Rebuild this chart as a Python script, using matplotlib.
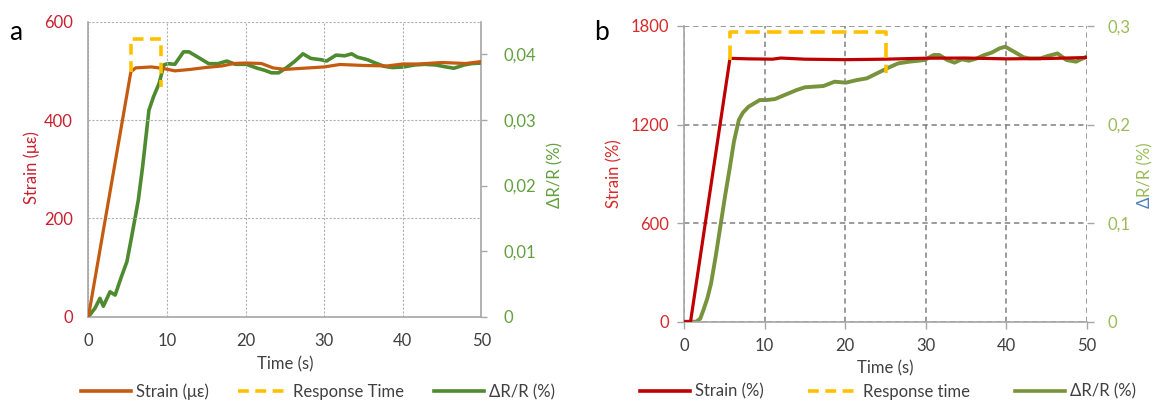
import matplotlib
matplotlib.use("Agg")
import matplotlib.pyplot as plt
from matplotlib.lines import Line2D

plt.rcParams['font.family'] = ['Lato', 'DejaVu Sans']

# ---- panel a data ----
a_strain_t = [0, 5.4, 6, 8, 9.5, 11, 13, 15, 17, 18.5, 20, 22, 23.5, 25, 27, 30, 32, 35, 38, 40, 42, 45, 48, 50]
a_strain = [0, 498, 506, 508, 505, 500, 503, 507, 510, 515, 516, 515, 506, 503, 505, 508, 513, 511, 510, 514, 514, 517, 515, 519]

a_dr_t = [0, 0.2, 0.84, 1.47, 1.9, 2.75, 3.4, 4.2, 4.9, 5.5, 5.9, 6.35, 6.9, 7.7, 8.3, 9.0, 9.6, 10.1, 11, 12.1,
          12.8, 14.2, 15.3, 16.5, 17.6, 18.7, 20.1, 21.5, 22.4, 23.3, 24.2, 25.1, 26.2, 27.3, 28.3, 29.6, 30.3,
          31.5, 32.6, 33.5, 34.2, 35.5, 36.5, 37.6, 38.7, 40.1, 41.5, 42.8, 44.2, 45.5, 46.5, 47.8, 48.7, 50]
a_dr = [0, 0.0003, 0.0013, 0.0028, 0.0016, 0.0038, 0.0033, 0.0061, 0.0084, 0.0122, 0.0148, 0.0178, 0.0229,
        0.0315, 0.0336, 0.0356, 0.0384, 0.0386, 0.0385, 0.0404, 0.0404, 0.0394, 0.0386, 0.0386, 0.039, 0.0385,
        0.0385, 0.0379, 0.0376, 0.0372, 0.0372, 0.0379, 0.0389, 0.0401, 0.0394, 0.0392, 0.039, 0.0399, 0.0398,
        0.0401, 0.0396, 0.0392, 0.0387, 0.0382, 0.038, 0.0381, 0.0384, 0.0385, 0.0384, 0.0381, 0.0379, 0.0384,
        0.0386, 0.0387]

a_resp_t = [5.45, 5.45, 9.2, 9.2]
a_resp = [498, 564, 564, 468]

# ---- panel b data ----
b_strain_t = [0, 0.8, 5.7, 8, 11, 12, 15, 20, 25, 30, 35, 40, 45, 50]
b_strain = [0, 0, 1603, 1600, 1598, 1605, 1598, 1595, 1598, 1604, 1605, 1600, 1602, 1608]

b_dr_t = [0, 1.5, 2.0, 2.4, 2.9, 3.35, 3.9, 4.5, 5.1, 5.7, 6.2, 6.8, 7.3, 8, 9.4, 10.3, 11.3, 12.7, 14, 15, 17.3,
          18.7, 20.1, 21.5, 22.7, 23.8, 25.2, 26.6, 28, 29.9, 31, 31.7, 32.7, 33.6, 34.5, 35.4, 36.4, 37.3, 38.2,
          39.2, 39.9, 41, 42.2, 42.9, 44.3, 45.2, 46.4, 47.5, 48.7, 50]
b_dr = [0, 0, 0.003, 0.0118, 0.024, 0.0389, 0.065, 0.0964, 0.128, 0.1573, 0.183, 0.2046, 0.212, 0.2181, 0.2249,
        0.2249, 0.2259, 0.2307, 0.2351, 0.2378, 0.2391, 0.2435, 0.2425, 0.2452, 0.2469, 0.2513, 0.257, 0.2621,
        0.2638, 0.2655, 0.2706, 0.2706, 0.2655, 0.2628, 0.2662, 0.2648, 0.2672, 0.2706, 0.2729, 0.2773, 0.279,
        0.2739, 0.2682, 0.2672, 0.2672, 0.2696, 0.2722, 0.2655, 0.2638, 0.2689]

b_resp_t = [5.67, 5.67, 25.07, 25.07]
b_resp = [1593, 1761, 1761, 1512]

time_ticks = [0, 10, 20, 30, 40, 50]

W, H = 1167, 403
fig = plt.figure(figsize=(W / 100, H / 100), dpi=100)

def fx(px):
    return px / W

def fy(py):
    return 1 - py / H

FS = 12
SPINE = '#A6A6A6'
YELLOW = '#FFC000'

# ================= panel a =================
ax1 = fig.add_axes([fx(88.4), fy(316.7), fx(481.4 - 88.4), (316.7 - 21.7) / H])
ax2 = ax1.twinx()
a_orange = '#C55A11'
a_green = '#4E8B30'
ax1.plot(a_strain_t, a_strain, color=a_orange, lw=2.3, zorder=3)
ax1.plot(a_resp_t, a_resp, color=YELLOW, lw=2.6, dashes=(3, 1.8), zorder=4)
ax2.plot(a_dr_t, a_dr, color=a_green, lw=2.6, zorder=3)
ax1.set_xlim(0, 50)
ax1.set_ylim(0, 600)
ax2.set_ylim(0, 0.045)
ax1.set_xticks(time_ticks)
ax1.set_yticks([0, 200, 400, 600])
ax2.set_yticks([0, 0.01, 0.02, 0.03, 0.04])
ax2.set_yticklabels(['0', '0,01', '0,02', '0,03', '0,04'])
ax1.grid(True, color='#B0B0B0', lw=0.8, linestyle=(0, (2, 1.5)))
for ax in (ax1, ax2):
    ax.spines['top'].set_visible(False)
    for s in ('left', 'right', 'bottom'):
        ax.spines[s].set_color(SPINE)
        ax.spines[s].set_linewidth(1.2)
ax1.spines['right'].set_visible(False)
ax2.spines['left'].set_visible(False)
ax2.spines['bottom'].set_visible(False)
ax1.tick_params(axis='x', length=0, pad=12, labelsize=FS, labelcolor='#404040')
ax1.tick_params(axis='y', length=0, pad=11, labelsize=FS, labelcolor='#C8202F')
ax2.tick_params(axis='y', length=4, width=1, color=SPINE, pad=12, labelsize=FS, labelcolor='#62A03F')
ax1.set_zorder(ax2.get_zorder() + 1)
ax1.patch.set_visible(False)
ax1.set_xlabel('Time (s)', fontsize=FS, color='#404040', labelpad=5)
fig.text(fx(32), fy(167.5), 'Strain (με)', rotation=90, ha='center', va='center', fontsize=FS, color='#C8202F')
fig.text(fx(555), fy(175), 'ΔR/R (%)', rotation=90, ha='center', va='center', fontsize=FS, color='#62A03F')
fig.text(fx(16), fy(33), 'a', ha='center', va='center', fontsize=19, color='black')

hand_a = [Line2D([], [], color=a_orange, lw=2.6),
          Line2D([], [], color=YELLOW, lw=2.6, dashes=(3, 1.8)),
          Line2D([], [], color=a_green, lw=2.6)]
fig.legend(hand_a, ['Strain (με)', 'Response Time', 'ΔR/R (%)'], loc='center',
           bbox_to_anchor=(fx(318), fy(391.7)), ncol=3, frameon=False, fontsize=FS,
           handlelength=3.0, handletextpad=0.3, columnspacing=1.8, labelcolor='#404040')

# ================= panel b =================
bx1 = fig.add_axes([fx(684.1), fy(321.7), fx(1086.5 - 684.1), (321.7 - 26) / H])
bx2 = bx1.twinx()
b_red = '#C00000'
b_green = '#77933C'
bx1.plot(b_strain_t, b_strain, color=b_red, lw=2.3, zorder=3)
bx1.plot(b_resp_t, b_resp, color=YELLOW, lw=2.6, dashes=(4, 2), zorder=4)
bx2.plot(b_dr_t, b_dr, color=b_green, lw=2.8, zorder=3)
bx1.set_xlim(0, 50)
bx1.set_ylim(0, 1800)
bx2.set_ylim(0, 0.3)
bx1.set_xticks(time_ticks)
bx1.set_yticks([0, 600, 1200, 1800])
bx2.set_yticks([0, 0.1, 0.2, 0.3])
bx2.set_yticklabels(['0', '0,1', '0,2', '0,3'])
bx1.grid(True, color='#808080', lw=1.1, linestyle=(0, (3.5, 2.5)))
for ax in (bx1, bx2):
    ax.spines['top'].set_visible(False)
    ax.spines['right'].set_visible(False)
    for s in ('left', 'bottom'):
        ax.spines[s].set_color(SPINE)
        ax.spines[s].set_linewidth(1.2)
bx2.spines['left'].set_visible(False)
bx2.spines['bottom'].set_visible(False)
bx1.tick_params(axis='x', length=5, width=1, color=SPINE, pad=7, labelsize=FS, labelcolor='#404040')
bx1.tick_params(axis='y', length=5, width=1, color=SPINE, pad=6, labelsize=FS, labelcolor='#D92A2A')
bx2.tick_params(axis='y', length=5, width=1, color=SPINE, pad=10, labelsize=FS, labelcolor='#9BBB59')
bx1.set_zorder(bx2.get_zorder() + 1)
bx1.patch.set_visible(False)
bx1.set_xlabel('Time (s)', fontsize=FS, color='#404040', labelpad=4)
fig.text(fx(614), fy(174), 'Strain (%)', rotation=90, ha='center', va='center', fontsize=FS, color='#D92A2A')
fig.text(fx(1145), fy(208), 'Δ', rotation=90, ha='center', va='bottom', fontsize=FS, color='#4F81BD')
fig.text(fx(1145), fy(197), 'R/R (%)', rotation=90, ha='center', va='bottom', fontsize=FS, color='#9BBB59')
fig.text(fx(601), fy(33), 'b', ha='center', va='center', fontsize=19, color='black')

hand_b = [Line2D([], [], color=b_red, lw=2.6),
          Line2D([], [], color=YELLOW, lw=2.6, dashes=(3, 1.8)),
          Line2D([], [], color=b_green, lw=2.6)]
fig.legend(hand_b, ['Strain (%)', 'Response time', 'ΔR/R (%)'], loc='center',
           bbox_to_anchor=(fx(888), fy(391.7)), ncol=3, frameon=False, fontsize=FS,
           handlelength=3.0, handletextpad=0.3, columnspacing=2.7, labelcolor='#404040')

fig.savefig('out.png', dpi=100)
